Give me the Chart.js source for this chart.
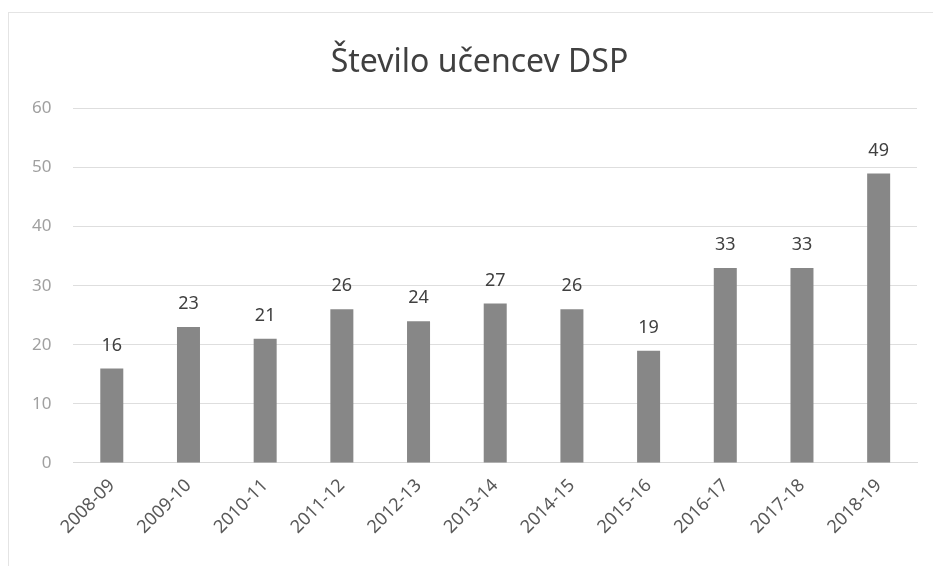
<!DOCTYPE html>
<html>
<head>
<meta charset="utf-8">
<script src="https://cdn.jsdelivr.net/npm/chart.js@4/dist/chart.umd.min.js"></script>
<style>
  html, body { margin: 0; padding: 0; background: #fff; }
  #wrap { position: absolute; left: 8px; top: 12px; width: 940px; height: 560px; border-left: 1px solid #e4e4e4; border-top: 1px solid #e4e4e4; }
  #c { position: absolute; left: 0; top: 0; }
</style>
</head>
<body>
<div id="wrap"></div>
<canvas id="c" width="933" height="566"></canvas>
<script>
const labels = ['2008-09', '2009-10', '2010-11', '2011-12', '2012-13', '2013-14', '2014-15', '2015-16', '2016-17', '2017-18', '2018-19'];
const values = [16, 23, 21, 26, 24, 27, 26, 19, 33, 33, 49];
const yTicks = [0, 10, 20, 30, 40, 50, 60];

// values above the bars
const barValues = {
  id: 'barValues',
  afterLayout(chart) {
    // title sits a bit right of canvas centre in the original
    if (chart.titleBlock) {
      chart.titleBlock.left += 16;
      chart.titleBlock.right += 16;
    }
  },
  afterDatasetsDraw(chart) {
    let ctx = chart.ctx;
    let meta = chart.getDatasetMeta(0);
    ctx.save();
    ctx.font = '18px "Noto Sans"';
    ctx.fillStyle = '#404040';
    ctx.textAlign = 'center';
    ctx.textBaseline = 'middle';
    meta.data.forEach((bar, i) => {
      ctx.fillText(values[i], bar.x, bar.y - 23);
    });
    ctx.restore();
  }
};

new Chart(document.getElementById('c'), {
  type: 'bar',
  data: {
    labels: labels,
    datasets: [{
      data: values,
      backgroundColor: '#878787',
      borderWidth: 0,
      barPercentage: 0.6,
      categoryPercentage: 0.5
    }]
  },
  options: {
    responsive: false,
    animation: false,
    layout: { padding: { left: 10, right: 16, top: 30, bottom: 24 } },
    plugins: {
      legend: { display: false },
      tooltip: { enabled: false },
      title: {
        display: true,
        text: 'Število učencev DSP',
        color: '#404040',
        font: { family: '"Noto Sans"', size: 32, weight: 'normal' },
        padding: { top: 14, bottom: 26 }
      }
    },
    scales: {
      x: {
        grid: { display: false },
        border: { color: '#d9d9d9' },
        ticks: {
          color: '#595959',
          font: { family: '"Noto Sans"', size: 18 },
          minRotation: 45,
          maxRotation: 45,
          padding: 4
        }
      },
      y: {
        min: 0,
        max: 60,
        afterBuildTicks: axis => { axis.ticks = yTicks.map(v => ({ value: v })); },
        grid: { color: '#dedede', drawTicks: false },
        border: { display: false },
        ticks: {
          color: '#a0a0a0',
          font: { family: '"Noto Sans"', size: 17 },
          padding: 22
        }
      }
    }
  },
  plugins: [barValues]
});
</script>
</body>
</html>
